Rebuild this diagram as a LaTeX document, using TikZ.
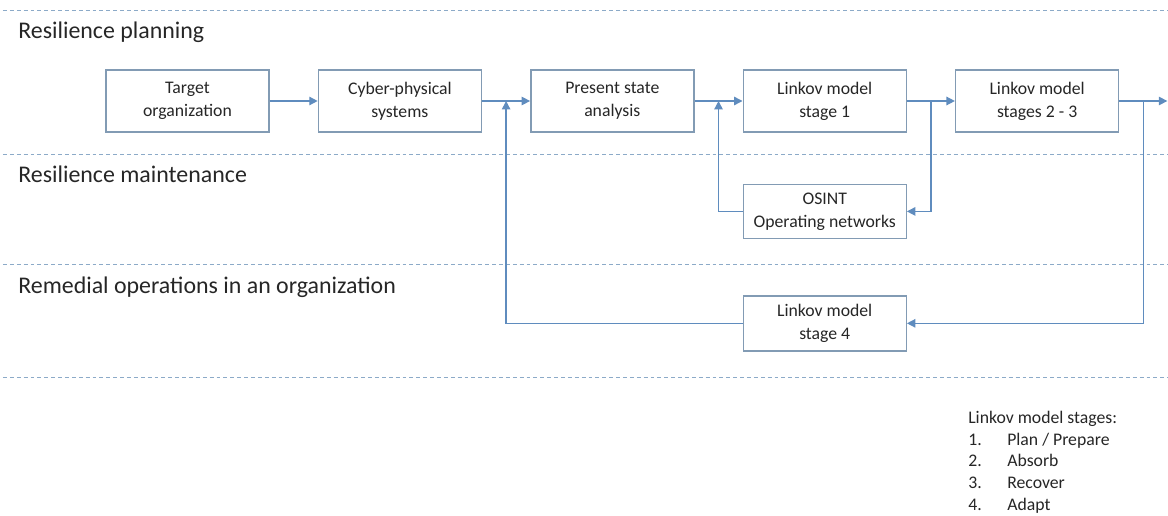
\documentclass[tikz,border=0pt]{standalone}
\usepackage{fontspec}
\setmainfont{Carlito}
\usetikzlibrary{arrows.meta, positioning}
\definecolor{boxline}{RGB}{130,155,180}
\definecolor{flow}{RGB}{95,140,190}
\definecolor{lane}{RGB}{140,170,200}

\begin{document}
\begin{tikzpicture}
		[
	elem/.style={draw=boxline,line width=1pt,rectangle,node distance=1.2cm,align=center,minimum width=4.075cm,minimum height=1.55cm,text=black!85,font=\fontsize{12.6}{16.5}\selectfont},
	lanetitle/.style={anchor=base west,inner sep=0pt,text=black!85,font=\fontsize{17}{20}\selectfont},
	sep/.style={draw=lane,line width=0.7pt,dash pattern=on 2.8pt off 2.1pt},
	link/.style={draw=flow,line width=1pt,-{Triangle[length=6pt,width=6pt]}}
	]
		\useasboundingbox (0,0) rectangle (29.2,-12.9);
		\draw [sep] (0.075,-0.25) -- (29.2,-0.25);
		\draw [sep] (0.075,-3.85) -- (29.2,-3.85);
		\draw [sep] (0.075,-6.6) -- (29.2,-6.6);
		\draw [sep] (0.075,-9.425) -- (29.2,-9.425);
	
		\node (rpl) [lanetitle] at (0.45,-0.95) {Resilience planning};
		\node (rmt) [lanetitle] at (0.45,-4.55) {Resilience maintenance};
		\node (rop) [lanetitle] at (0.45,-7.325) {Remedial operations in an organization};
	
		\node (tgt) [elem] at (4.6875,-2.525) {Target\\organization};
		\node (cps) [elem,right=of tgt] {Cyber-physical\\systems};
		\node (psa) [elem,right=of cps] {Present state\\analysis};
		\node (lk1) [elem,right=of psa] {Linkov model\\stage 1};
		\node (lk23) [elem,right=of lk1] {Linkov model\\stages 2 - 3};
		\node (osi) [elem,minimum height=1.35cm,below=1.275cm of lk1] {OSINT\\Operating networks};
		\node (lk4) [elem,minimum height=1.375cm,below=1.4cm of osi] {Linkov model\\stage 4};
		\coordinate [right=1.2cm of lk23.east] (out);
	
		\node (key) [anchor=base west,align=left,inner sep=0pt,text=black!85,font=\fontsize{12.6}{15.3}\selectfont] at (24.2,-12.75)
			{Linkov model stages:\\
			\makebox[0.975cm][l]{1.}Plan / Prepare\\
			\makebox[0.975cm][l]{2.}Absorb\\
			\makebox[0.975cm][l]{3.}Recover\\
			\makebox[0.975cm][l]{4.}Adapt};
	
		\draw [link] (tgt) -- (cps);
		\draw [link] (cps) -- coordinate[pos=0.5] (j1) (psa);
		\draw [link] (psa) -- coordinate[pos=0.5] (j2) (lk1);
		\draw [link] (lk1) -- coordinate[pos=0.5] (j3) (lk23);
		\draw [link] (lk23) -- coordinate[pos=0.5] (j4) (out);
		\draw [link] (j3) |- (osi);
		\draw [link] (osi) -| (j2);
		\draw [link] (j4) |- (lk4);
		\draw [link] (lk4) -| (j1);
	\end{tikzpicture}
\end{document}
